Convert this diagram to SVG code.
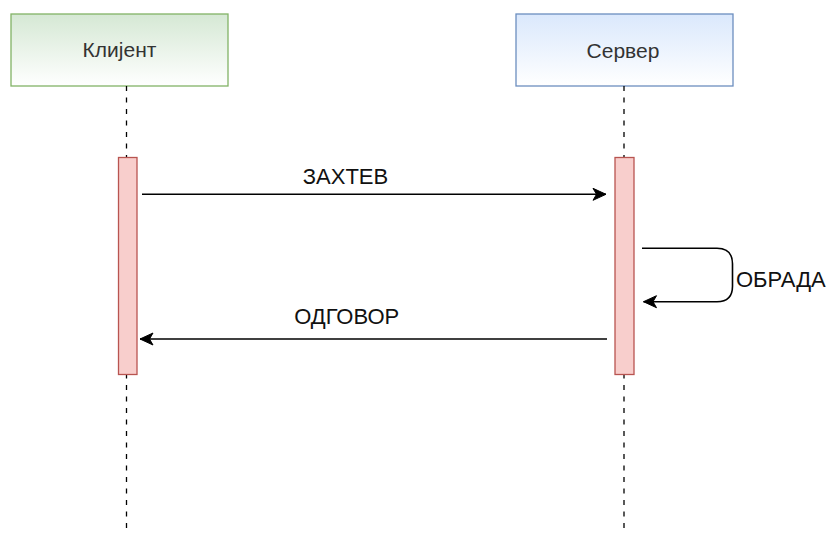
<svg xmlns="http://www.w3.org/2000/svg" width="828" height="534" viewBox="0 0 828 534">
<style>
.lbl{font-family:"Liberation Sans",Arial,sans-serif;font-size:21px;fill:#333333;text-anchor:middle}
.msg{font-family:"Liberation Sans",Arial,sans-serif;font-size:22px;fill:#111111}
.life{stroke:#000;stroke-width:1.3;stroke-dasharray:5 6.5;fill:none}
.act{fill:#f8cecc;stroke:#b85450;stroke-width:1.3}
.edge{stroke:#000;stroke-width:1.6;fill:none}
</style>
<defs>
<linearGradient id="gGreen" x1="0" y1="0" x2="0" y2="1">
<stop offset="0" stop-color="#d5e8d4"/><stop offset="1" stop-color="#ffffff"/>
</linearGradient>
<linearGradient id="gBlue" x1="0" y1="0" x2="0" y2="1">
<stop offset="0" stop-color="#dae8fc"/><stop offset="1" stop-color="#ffffff"/>
</linearGradient>
<marker id="arr" markerUnits="userSpaceOnUse" markerWidth="16" markerHeight="14" viewBox="0 0 16 14" refX="14" refY="7" orient="auto">
<path d="M14 7 L1 1 L4.5 7 L1 13 Z" fill="#000" stroke="#000" stroke-width="1"/>
</marker>
</defs>
<g id="client">
<rect x="11" y="14" width="217" height="72" fill="url(#gGreen)" stroke="#82b366" stroke-width="1.3"/>
<text class="lbl" x="119.5" y="57">Клијент</text>
<line class="life" x1="126.5" y1="86" x2="126.5" y2="534"/>
<rect class="act" x="118.5" y="157.5" width="18.5" height="217"/>
</g>
<g id="server">
<rect x="516" y="14" width="217" height="72" fill="url(#gBlue)" stroke="#6c8ebf" stroke-width="1.3"/>
<text class="lbl" x="623" y="58">Сервер</text>
<line class="life" x1="624" y1="86" x2="624" y2="534"/>
<rect class="act" x="615" y="157.5" width="19" height="217"/>
</g>
<g id="connectors">
<line class="edge" x1="142" y1="194.3" x2="606" y2="194.3" marker-end="url(#arr)"/>
<text class="msg" x="345.5" y="183.5" text-anchor="middle">ЗАХТЕВ</text>
<path class="edge" d="M642 248.3 H717 Q732.5 248.3 732.5 263.8 V286.2 Q732.5 301.7 717 301.7 H643.5" marker-end="url(#arr)"/>
<text class="msg" x="736" y="287">ОБРАДА</text>
<line class="edge" x1="607" y1="339" x2="140" y2="339" marker-end="url(#arr)"/>
<text class="msg" x="346.7" y="323.5" text-anchor="middle">ОДГОВОР</text>
</g>
</svg>
